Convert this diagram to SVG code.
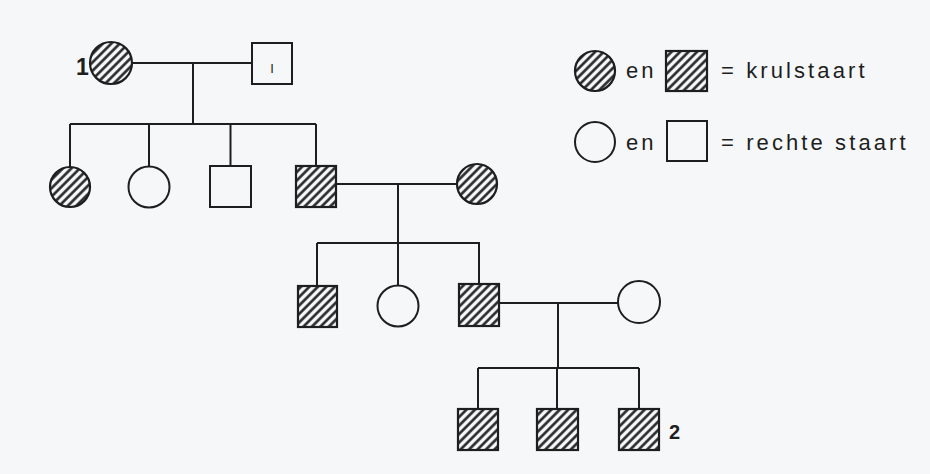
<svg xmlns="http://www.w3.org/2000/svg" width="930" height="474" viewBox="0 0 930 474">
<defs>
<pattern id="hatch" patternUnits="userSpaceOnUse" width="6" height="6" patternTransform="rotate(45)">
<rect width="6" height="6" fill="#f6f7f9"/>
<line x1="1.5" y1="0" x2="1.5" y2="6" stroke="#1e1e1e" stroke-width="2.5"/>
</pattern>
</defs>
<style>
.open{fill:#f6f7f9;stroke:#1e1e1e;stroke-width:2}
.aff{fill:url(#hatch);stroke:#1e1e1e;stroke-width:2.2}
.ln{stroke:#1e1e1e;stroke-width:2;fill:none}
.lbl{font-family:"Liberation Sans",Arial,sans-serif;font-size:22px;fill:#1e1e1e;letter-spacing:3.1px}
.num{font-family:"Liberation Sans",Arial,sans-serif;font-weight:bold;fill:#1e1e1e}
</style>
<rect width="930" height="474" fill="#f6f7f9"/>
<g id="connectors">
<path class="ln" d="M132 63H252 M193 63V124 M70 124H316 M70 124V167 M149 124V166.5 M230.5 124V166 M316 124V166"/>
<path class="ln" d="M336 184H457 M398 184V243 M317 243H480 M317 243V286 M398 243V285.5 M479 243V284"/>
<path class="ln" d="M499 303H618 M558 303V368 M478 368H639 M478 368V409 M557 368V409 M639 368V409"/>
</g>
<g id="I-1"><circle class="aff" cx="111" cy="63" r="21"/><text class="num" x="76" y="75" font-size="23">1</text></g>
<g id="I-2"><rect class="open" x="252" y="43" width="40" height="41"/><text x="272" y="73" font-family="Liberation Sans,Arial,sans-serif" font-size="13" text-anchor="middle" fill="#1e1e1e">I</text></g>
<g id="II-1"><circle class="aff" cx="70" cy="187" r="20"/></g>
<g id="II-2"><circle class="open" cx="149" cy="187" r="20.5"/></g>
<g id="II-3"><rect class="open" x="210" y="166" width="41" height="41"/></g>
<g id="II-4"><rect class="aff" x="296" y="166" width="40" height="41"/></g>
<g id="II-5"><circle class="aff" cx="477" cy="184" r="20"/></g>
<g id="III-1"><rect class="aff" x="298" y="286" width="39" height="41"/></g>
<g id="III-2"><circle class="open" cx="398" cy="306" r="20.5"/></g>
<g id="III-3"><rect class="aff" x="459" y="284" width="40" height="42"/></g>
<g id="III-4"><circle class="open" cx="639" cy="302" r="21"/></g>
<g id="IV-1"><rect class="aff" x="458" y="409" width="40" height="41"/></g>
<g id="IV-2"><rect class="aff" x="537" y="409" width="41" height="41"/></g>
<g id="IV-3"><rect class="aff" x="619" y="409" width="40" height="41"/><text class="num" x="669" y="439" font-size="20">2</text></g>
<g id="legend">
<circle class="aff" cx="595" cy="71" r="20"/>
<text class="lbl" x="626" y="78">en</text>
<rect class="aff" x="666" y="51" width="41" height="40"/>
<text class="lbl" x="721" y="78">= krulstaart</text>
<circle class="open" cx="595" cy="142" r="20"/>
<text class="lbl" x="626" y="150">en</text>
<rect class="open" x="667" y="121" width="40" height="40"/>
<text class="lbl" x="721" y="150">= rechte staart</text>
</g>
</svg>
